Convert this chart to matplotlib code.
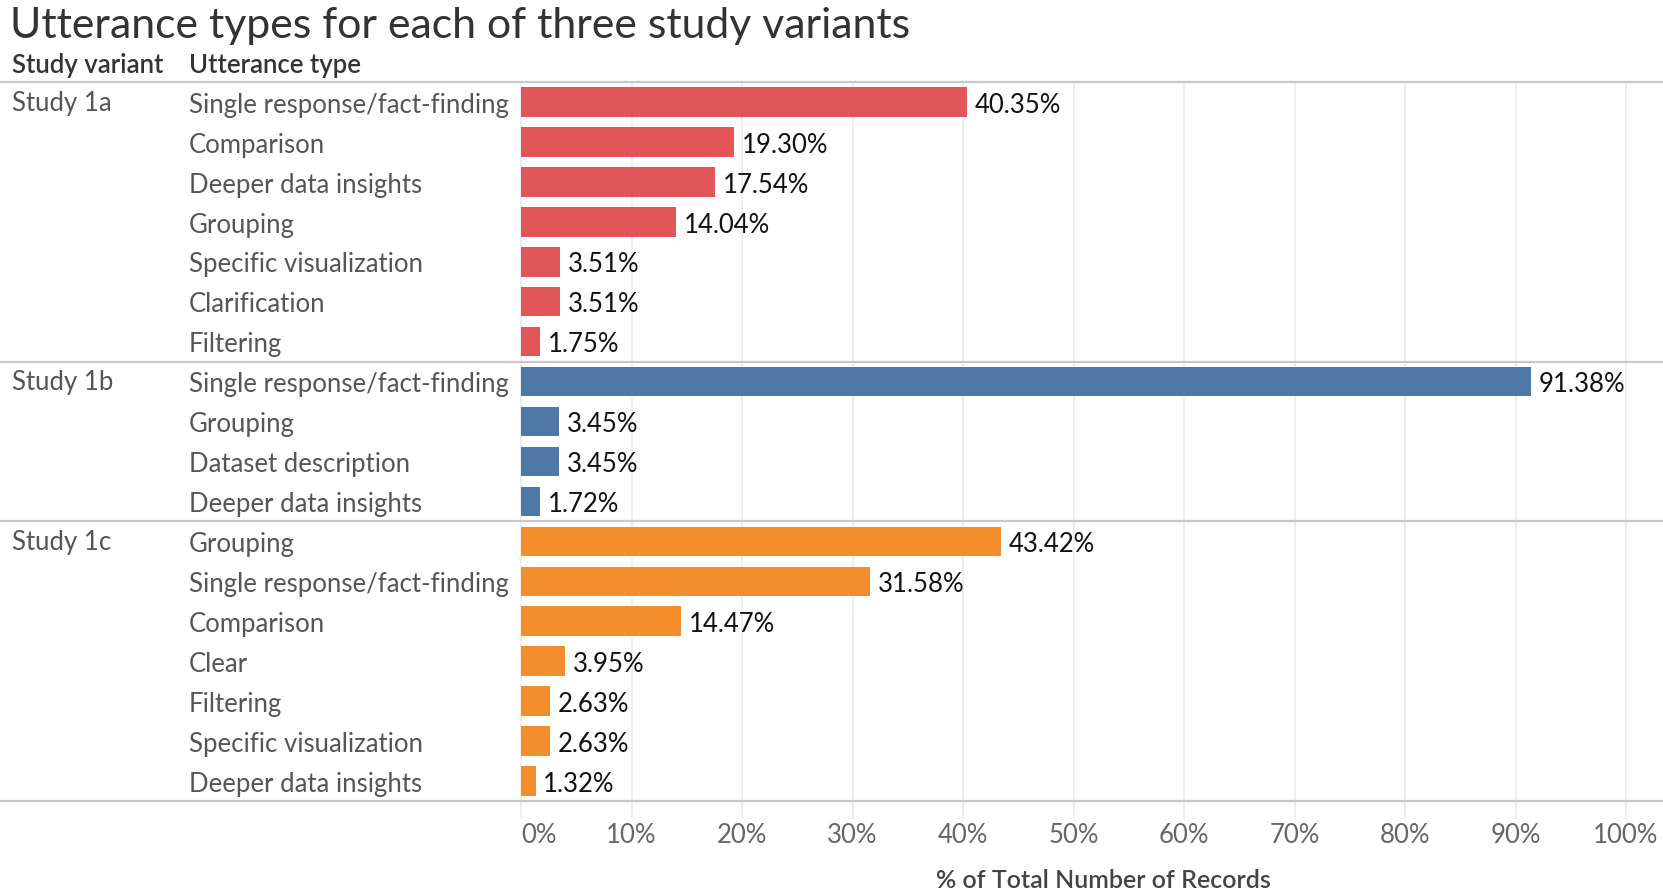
import matplotlib.pyplot as plt
import matplotlib.transforms as mtransforms
import numpy as np

plt.rcParams['font.family'] = ['Lato', 'DejaVu Sans']

# data
studies = ["Study 1a", "Study 1b", "Study 1c"]
types_1a = ["Single response/fact-finding", "Comparison", "Deeper data insights", "Grouping",
            "Specific visualization", "Clarification", "Filtering"]
values_1a = [40.35, 19.30, 17.54, 14.04, 3.51, 3.51, 1.75]
types_1b = ["Single response/fact-finding", "Grouping", "Dataset description", "Deeper data insights"]
values_1b = [91.38, 3.45, 3.45, 1.72]
types_1c = ["Grouping", "Single response/fact-finding", "Comparison", "Clear", "Filtering",
            "Specific visualization", "Deeper data insights"]
values_1c = [43.42, 31.58, 14.47, 3.95, 2.63, 2.63, 1.32]
colors = ["#E15759", "#4E79A7", "#F28E2B"]
xticks = [0, 10, 20, 30, 40, 50, 60, 70, 80, 90, 100]

W, H = 1663, 896
fig = plt.figure(figsize=(W / 100, H / 100), dpi=100, facecolor="white")
ax_left, ax_right = 521, 1663
ax_top, ax_bottom = 82, 801
ax = fig.add_axes([ax_left / W, 1 - ax_bottom / H, (ax_right - ax_left) / W, (ax_bottom - ax_top) / H])

groups = [(types_1a, values_1a), (types_1b, values_1b), (types_1c, values_1c)]
n_rows = sum(len(t) for t, _ in groups)
ax.set_ylim(n_rows - 0.5, -0.5)
ax.set_xlim(0, 100 * (ax_right - ax_left) / (1626 - ax_left))

label_color = "#555555"
fs = 18.5
dy = 0.08  # small downward nudge so text sits centred like the reference
blend = mtransforms.blended_transform_factory(fig.transFigure, ax.transData)

# gridlines
ax.vlines(xticks, -0.5, n_rows - 0.05, colors="#ececec", linewidth=1.2, zorder=0, clip_on=False)

row = 0
for gi, (types, vals) in enumerate(groups):
    ys = np.arange(row, row + len(types))
    ax.barh(ys, vals, height=0.74, color=colors[gi], zorder=2)
    for y, t, v in zip(ys, types, vals):
        ax.text(189 / W, y + dy, t, transform=blend, ha="left", va="center", fontsize=fs, color=label_color)
        ax.text(v + 0.7, y + dy, f"{v:.2f}%", ha="left", va="center", fontsize=fs, color="#111111")
    ax.text(12 / W, row + dy - 0.05, studies[gi], transform=blend, ha="left", va="center",
            fontsize=fs, color=label_color)
    row += len(types)
    # separator line under each group
    ax.plot([0, 1], [row - 0.5, row - 0.5], transform=blend, color="#c8c8c8", linewidth=1.6,
            clip_on=False, zorder=3)

# top line
ax.plot([0, 1], [-0.5, -0.5], transform=blend, color="#c8c8c8", linewidth=1.6, clip_on=False, zorder=3)

for s in ax.spines.values():
    s.set_visible(False)
ax.set_yticks([])
ax.set_xticks(xticks)
ax.set_xticklabels([f"{t}%" for t in xticks], fontsize=fs, color="#666666")
ax.tick_params(axis="x", length=0, pad=16)
ax.get_xticklabels()[0].set_ha("left")
ax.set_xlabel("% of Total Number of Records", fontsize=18, color="#444444", fontweight="semibold")
ax.xaxis.set_label_coords((1103 - ax_left) / (ax_right - ax_left), -(880 - ax_bottom) / (ax_bottom - ax_top))
ax.xaxis.label.set_va("center")

# headers and title
fig.text(12 / W, 1 - 65 / H, "Study variant", fontsize=18.5, fontweight="semibold", color="#333333", va="center")
fig.text(189 / W, 1 - 65 / H, "Utterance type", fontsize=18.5, fontweight="semibold", color="#333333", va="center")
fig.text(10 / W, 1 - 26 / H, "Utterance types for each of three study variants", fontsize=30.8,
         fontweight="normal", color="#333333", va="center")

fig.savefig("out.png", dpi=100, facecolor="white")
